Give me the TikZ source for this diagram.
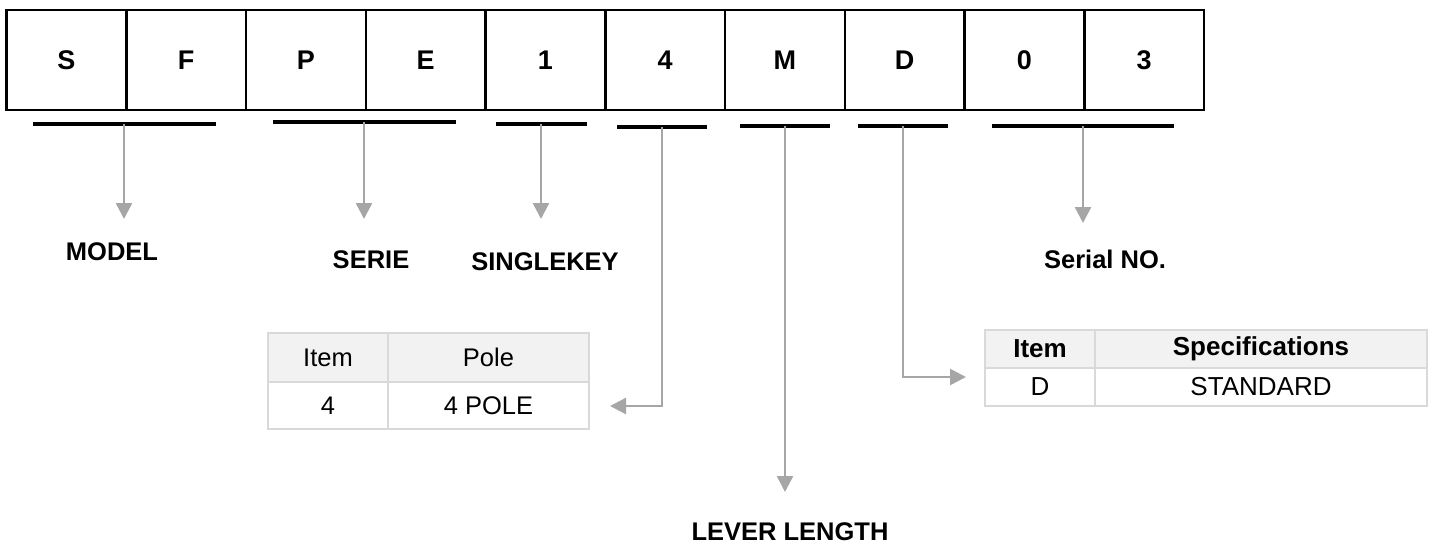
\documentclass[tikz,border=0pt]{standalone}
\usepackage{fontspec}
\setmainfont{Liberation Sans}
\usetikzlibrary{arrows.meta}
\definecolor{arrowgray}{HTML}{A6A6A6}
\definecolor{tableline}{HTML}{D9D9D9}
\definecolor{tablehead}{HTML}{F2F2F2}
\begin{document}
\begin{tikzpicture}[x=1pt,y=-1pt,
    cellbox/.style={draw,line width=2.5pt,minimum width=119.75,minimum height=100,inner sep=0,font=\fontsize{27}{30}\selectfont\bfseries},
    codebar/.style={fill=black,minimum height=4.5,inner sep=0},
    lbl/.style={inner sep=0,font=\fontsize{25.5}{30}\selectfont\bfseries},
    garrow/.style={draw=arrowgray,line width=2.5pt,-{Triangle[width=16pt,length=16pt]},arrowgray},
    tcell/.style={draw=tableline,line width=1.5pt,inner sep=0,font=\fontsize{25.5}{30}\selectfont},
    thead/.style={tcell,fill=tablehead}]
  \useasboundingbox (0,0) rectangle (1431,546);

  % code letters
  \foreach \i/\l in {1/S,2/F,3/P,4/E,5/1,6/4,7/M,8/D,9/0,10/3}
    \node[cellbox] (c\i) at ({66.4+119.75*(\i-1)},60) {\l};

  % bars under the groups
  \node[codebar,minimum width=183] (bModel) at (124,124) {};
  \node[codebar,minimum width=183] (bSerie) at (364,122) {};
  \node[codebar,minimum width=91] (bKey) at (541,124) {};
  \node[codebar,minimum width=90] (bPole) at (662,127) {};
  \node[codebar,minimum width=90] (bLever) at (785,126) {};
  \node[codebar,minimum width=90] (bSpec) at (903,126) {};
  \node[codebar,minimum width=182] (bSerial) at (1083,126) {};

  % labels
  \node[lbl] (lModel) at (112,252) {MODEL};
  \node[lbl] (lSerie) at (371,260) {SERIE};
  \node[lbl] (lKey) at (545,262) {SINGLEKEY};
  \node[lbl] (lSerial) at (1105,259) {Serial NO.};
  \node[lbl,text depth=0pt] (lLever) at (790,532) {LEVER LENGTH};

  \coordinate (tModel) at (124,219);
  \coordinate (tSerie) at (364,219);
  \coordinate (tKey) at (541,219);
  \coordinate (tSerial) at (1083,223);
  \coordinate (tLever) at (785,492);
  \coordinate (tPole) at (610,406);
  \coordinate (tSpec) at (966,377);

  % pole table
  \node[thead,minimum width=120,minimum height=49] (pItem) at (328,357.5) {Item};
  \node[thead,minimum width=201,minimum height=49] (pPole) at (488.5,357.5) {Pole};
  \node[tcell,minimum width=120,minimum height=47] (pVal) at (328,405.5) {4};
  \node[tcell,minimum width=201,minimum height=47] (pText) at (488.5,405.5) {4 POLE};

  % specification table
  \node[thead,minimum width=110,minimum height=38,font=\fontsize{26}{30}\selectfont\bfseries] (sItem) at (1040,349) {Item};
  \node[thead,minimum width=332,minimum height=38,font=\fontsize{26}{30}\selectfont\bfseries] (sSpec) at (1261,349) {Specifications};
  \node[tcell,minimum width=110,minimum height=38,font=\fontsize{26}{30}\selectfont] (sVal) at (1040,387) {D};
  \node[tcell,minimum width=332,minimum height=38,font=\fontsize{26}{30}\selectfont] (sText) at (1261,387) {STANDARD};

  % arrows
  \draw[garrow] (bModel.center) -- (tModel);
  \draw[garrow] (bSerie.center) -- (tSerie);
  \draw[garrow] (bKey.center) -- (tKey);
  \draw[garrow] (bSerial.center) -- (tSerial);
  \draw[garrow] (bLever.center) -- (tLever);
  \draw[garrow] (bPole.center) |- (tPole);
  \draw[garrow] (bSpec.center) |- (tSpec);
\end{tikzpicture}
\end{document}
